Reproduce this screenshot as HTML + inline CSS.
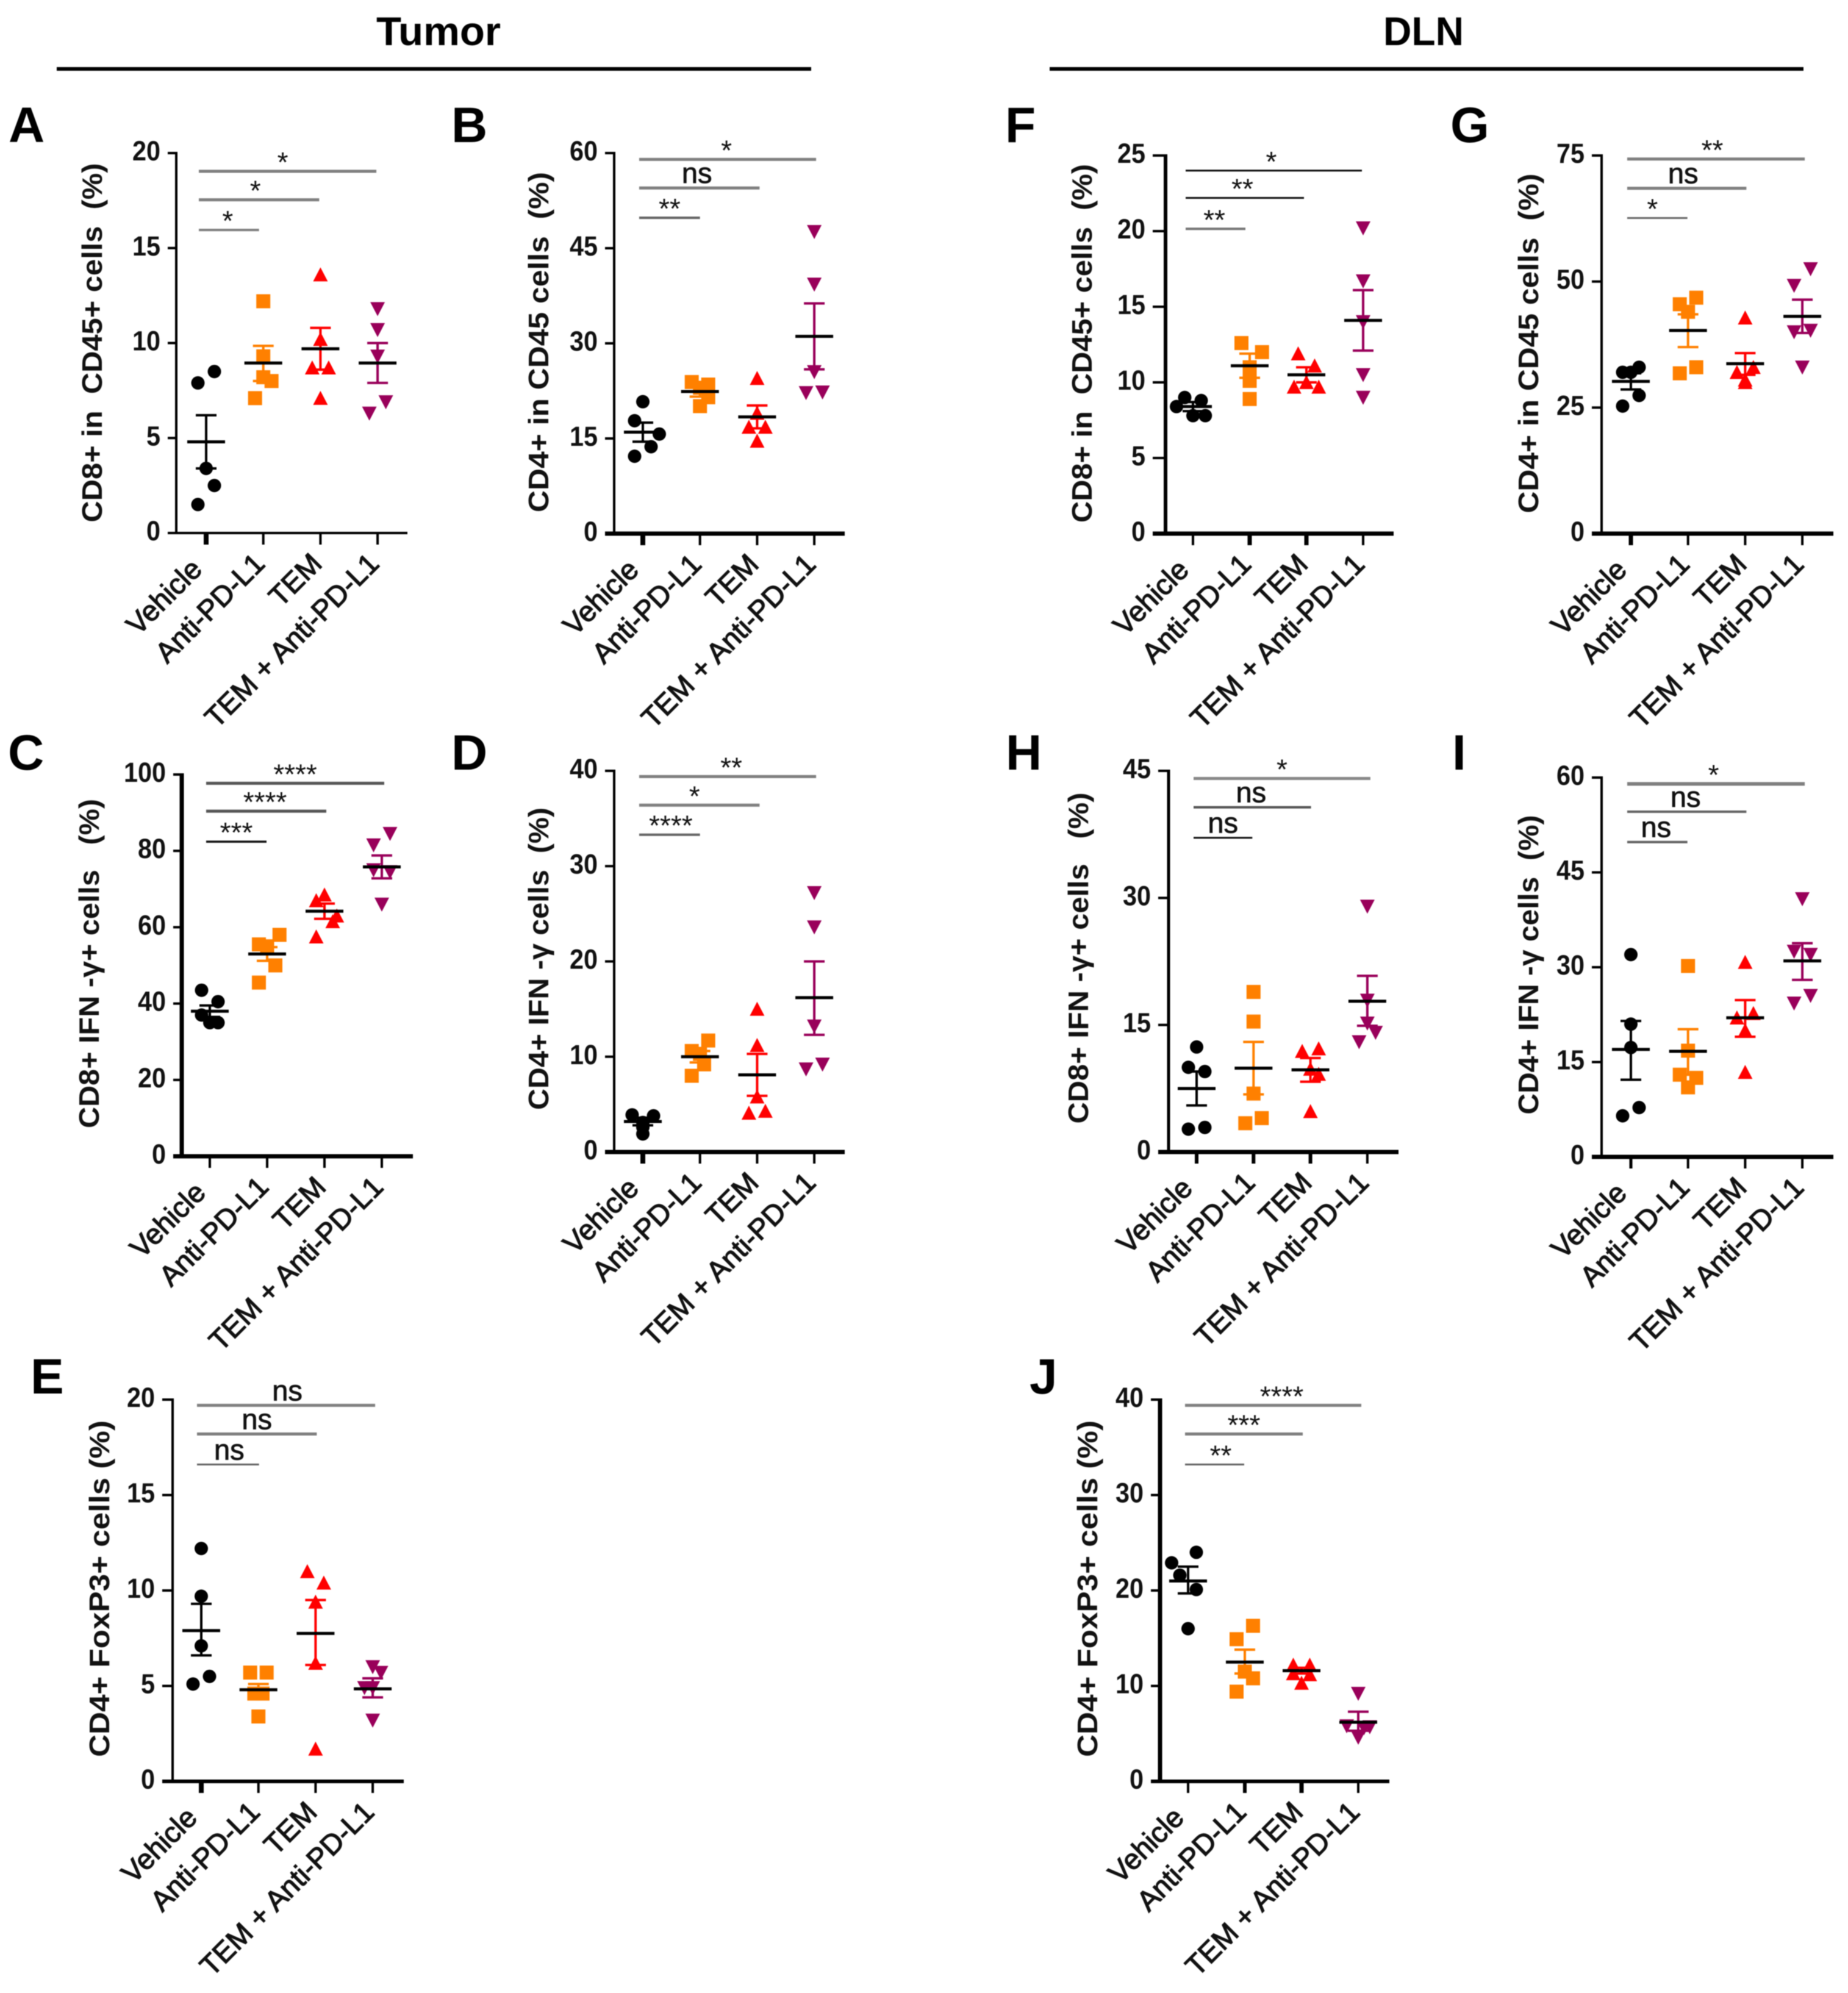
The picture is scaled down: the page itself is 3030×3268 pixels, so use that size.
<!DOCTYPE html>
<html lang="en">
<head>
<meta charset="utf-8">
<title>Tumor and DLN immune cell panels</title>
<style>
html,body{margin:0;padding:0;background:#fff;}
svg{display:block;font-family:"Liberation Sans",Arial,sans-serif;filter:blur(0.8px);}
.heading{font-size:66px;font-weight:bold;fill:#000;}
.letter{font-size:82px;font-weight:bold;fill:#000;}
.ytitle{font-size:46px;font-weight:bold;fill:#111;white-space:pre;text-anchor:middle;}
</style>
</head>
<body>
<svg id="figure" xmlns="http://www.w3.org/2000/svg" width="3030" height="3268" viewBox="0 0 3030 3268">
<rect x="0" y="0" width="3030" height="3268" fill="#fff"/>
<text class="heading" x="617" y="74" textLength="204" lengthAdjust="spacingAndGlyphs">Tumor</text>
<rect x="93" y="110" width="1237" height="6" fill="#000"/>
<text class="heading" x="2268" y="74" textLength="132" lengthAdjust="spacingAndGlyphs">DLN</text>
<rect x="1721" y="110" width="1236" height="6" fill="#000"/>
<text class="letter" x="14" y="233">A</text>
<text class="letter" x="740" y="233">B</text>
<text class="letter" x="13" y="1262">C</text>
<text class="letter" x="740" y="1262">D</text>
<text class="letter" x="50" y="2285">E</text>
<text class="letter" x="1648" y="233">F</text>
<text class="letter" x="2378" y="233">G</text>
<text class="letter" x="1649" y="1262">H</text>
<text class="letter" x="2381" y="1262">I</text>
<text class="letter" x="1688" y="2285">J</text>
<text class="ytitle" transform="translate(167 562) rotate(-90)" textLength="589" lengthAdjust="spacingAndGlyphs">CD8+ in  CD45+ cells  (%)</text>
<text class="ytitle" transform="translate(899 561) rotate(-90)" textLength="558" lengthAdjust="spacingAndGlyphs">CD4+ in CD45 cells  (%)</text>
<text class="ytitle" transform="translate(162 1580) rotate(-90)" textLength="540" lengthAdjust="spacingAndGlyphs">CD8+ IFN -γ+ cells   (%)</text>
<text class="ytitle" transform="translate(899 1572) rotate(-90)" textLength="496" lengthAdjust="spacingAndGlyphs">CD4+ IFN -γ cells  (%)</text>
<text class="ytitle" transform="translate(179 2605) rotate(-90)" textLength="552" lengthAdjust="spacingAndGlyphs">CD4+ FoxP3+ cells (%)</text>
<text class="ytitle" transform="translate(1790 563) rotate(-90)" textLength="588" lengthAdjust="spacingAndGlyphs">CD8+ in  CD45+ cells  (%)</text>
<text class="ytitle" transform="translate(2522 563) rotate(-90)" textLength="557" lengthAdjust="spacingAndGlyphs">CD4+ in CD45 cells  (%)</text>
<text class="ytitle" transform="translate(1784 1571) rotate(-90)" textLength="543" lengthAdjust="spacingAndGlyphs">CD8+ IFN -γ+ cells   (%)</text>
<text class="ytitle" transform="translate(2522 1582) rotate(-90)" textLength="491" lengthAdjust="spacingAndGlyphs">CD4+ IFN -γ cells  (%)</text>
<text class="ytitle" transform="translate(1799 2605) rotate(-90)" textLength="552" lengthAdjust="spacingAndGlyphs">CD4+ FoxP3+ cells (%)</text>
</svg>
<script>
const categories = ['Vehicle', 'Anti-PD-L1', 'TEM', 'TEM + Anti-PD-L1'];

const aTicks = [0, 5, 10, 15, 20];
const aValues = [[8.5, 7.9, 3.4, 2.5, 1.5], [12.2, 9.3, 8.2, 8.0, 7.1], [13.6, 10.2, 8.7, 8.7, 7.1], [11.8, 10.7, 9.3, 6.9, 6.3]];
const aSlots = [[1, -1, 0, 1, -1], [0, 0, 0, 1, -1], [0, 0, -1, 1, 0], [0, 0, 0, 1, -1]];
const aMeans = [4.8, 8.95, 9.7, 8.95];
const aSemHigh = [6.2, 9.85, 10.8, 10];
const aSemLow = [3.4, 8, 8.6, 7.9];
const aSigLevels = [19.04, 17.54, 15.95];
const aSigLabels = ['*', '*', '*'];

const bTicks = [0, 15, 30, 45, 60];
const bValues = [[20.8, 17.8, 15.7, 13.7, 12.2], [23.9, 23.5, 23, 21.5, 20.1], [24.5, 19, 16.8, 16.8, 14.6], [47.6, 39.3, 25.5, 22.3, 22.2]];
const bSlots = [[0, -1, 2, 1, -1], [-1, 1, 0, 1, 0], [0, 0, -1, 1, 0], [0, 0, 0, 1, -1]];
const bMeans = [16, 22.4, 18.4, 31.1];
const bSemHigh = [17.5, 23.2, 20.2, 36.3];
const bSemLow = [14.5, 21.6, 16.6, 25.9];
const bSigLevels = [59, 54.5, 49.8];
const bSigLabels = ['*', 'ns', '**'];

const cTicks = [0, 20, 40, 60, 80, 100];
const cValues = [[43.5, 40.5, 37, 35, 35], [58, 55.5, 55, 50, 45.5], [68.5, 67, 63, 61.5, 57.5], [84.5, 81.5, 75, 74.5, 66]];
const cSlots = [[-1, 1, -1, 0, 1], [1.5, -1, 0, 1, -1], [0, -1, 1.5, 1, -1], [1, -1, -1, 1, 0]];
const cMeans = [38, 53, 64.2, 75.8];
const cSemHigh = [39.5, 54.8, 66.2, 78.8];
const cSemLow = [36.5, 51.2, 62.2, 72.8];
const cSigLevels = [97.7, 90.4, 82.4];
const cSigLabels = ['****', '****', '***'];

const dTicks = [0, 10, 20, 30, 40];
const dValues = [[3.9, 3.8, 3.1, 2.6, 1.9], [11.7, 10.6, 10.3, 9.2, 8], [15, 11.2, 5.8, 4.3, 4.1], [27.2, 23.6, 13.2, 9.2, 8.7]];
const dSlots = [[-1.3, 1.3, 0, 0, 0], [1, -1, 0, 0.5, -1], [0, 0, 0, 1, -1], [0, 0, 0, 1, -1]];
const dMeans = [3.2, 10, 8.1, 16.2];
const dSemHigh = [3.6, 10.6, 10.3, 20];
const dSemLow = [2.8, 9.4, 5.9, 12.3];
const dSigLevels = [39.4, 36.4, 33.3];
const dSigLabels = ['**', '*', '****'];

const eTicks = [0, 5, 10, 15, 20];
const eValues = [[12.2, 9.7, 7.1, 5.5, 5.1], [5.7, 5.7, 4.6, 4.6, 3.4], [11, 10.4, 9.4, 6.2, 1.7], [6, 5.7, 4.9, 4.9, 3.2]];
const eSlots = [[0, 0, 0, 1, -1], [1, -1, -0.5, 0.5, 0], [-1, 1, 0, 0, 0], [0, 1, -1, 0, 0]];
const eMeans = [7.9, 4.8, 7.75, 4.85];
const eSemHigh = [9.3, 5.1, 9.5, 5.4];
const eSemLow = [6.6, 4.5, 6.1, 4.4];
const eSigLevels = [19.7, 18.2, 16.6];
const eSigLabels = ['ns', 'ns', 'ns'];

const fTicks = [0, 5, 10, 15, 20, 25];
const fValues = [[9, 8.8, 8.4, 7.8, 7.8], [12.6, 12, 11, 10.1, 8.9], [11.9, 11.1, 10, 9.7, 9.7], [20.2, 16.7, 14, 10.5, 9]];
const fSlots = [[-1, 1, -2, 0, 1.5], [-1, 1.5, 0, 0, 0], [-1, 1, 0, -1.5, 1.5], [0, 0, 0, 0, 0]];
const fMeans = [8.4, 11.1, 10.5, 14.1];
const fSemHigh = [8.7, 11.9, 11, 16.1];
const fSemLow = [8.1, 10.3, 10, 12.1];
const fSigLevels = [24, 22.2, 20.15];
const fSigLabels = ['*', '**', '**'];

const gTicks = [0, 25, 50, 75];
const gValues = [[33, 32, 32, 27.4, 25.3], [46.8, 45.5, 44, 33, 31.8], [42.8, 33, 32, 30.5, 30], [52.5, 49.2, 40.3, 40, 33]];
const gSlots = [[1, -1, 0, 1, -1], [1, -1, 0, 1, -1], [0, 1, -1, 0, 0], [1, -1, 1, -1, 0]];
const gMeans = [30.2, 40.3, 33.7, 43.1];
const gSemHigh = [31.8, 43.5, 35.8, 46.4];
const gSemLow = [28.6, 37, 31.5, 39.8];
const gSigLevels = [74.3, 68.5, 62.6];
const gSigLabels = ['**', 'ns', '*'];

const hTicks = [0, 15, 30, 45];
const hValues = [[12.4, 10, 9.5, 2.9, 2.7], [18.9, 15.4, 6.9, 4, 3.4], [12.2, 11.9, 9.8, 9.2, 4.8], [29, 17.9, 15.2, 14.1, 13]];
const hSlots = [[0, -1, 1, 1, -1], [0, 0, 0, 1, -1], [1, -1, 0, 1, 0], [0, 0, 0, 1, -1]];
const hMeans = [7.5, 9.9, 9.7, 17.8];
const hSemHigh = [9.5, 13, 11.1, 20.8];
const hSemLow = [5.5, 6.8, 8.3, 14.9];
const hSigLevels = [44.1, 40.7, 37.1];
const hSigLabels = ['*', 'ns', 'ns'];

const iTicks = [0, 15, 30, 45, 60];
const iValues = [[32, 21, 17.3, 7.8, 6.5], [30.2, 16.8, 13, 12.5, 11], [30.8, 22.7, 22, 20, 13.4], [40.8, 32.5, 32, 25.5, 24.3]];
const iSlots = [[0, 0, 0, 1, -1], [0, 0, -1, 1, 0], [0, 1, -1, 0, 0], [0, -1, 1, 1, -1]];
const iMeans = [17, 16.7, 22, 31];
const iSemHigh = [21.5, 20.2, 24.8, 33.8];
const iSemLow = [12.2, 13, 19, 28];
const iSigLevels = [59, 54.6, 49.8];
const iSigLabels = ['*', 'ns', 'ns'];

const jTicks = [0, 10, 20, 30, 40];
const jValues = [[24, 22.9, 21.6, 20.1, 16], [16.3, 14.9, 11.5, 10.8, 9.4], [12.2, 12.2, 11.3, 11.2, 10.3], [9.2, 5.8, 5.7, 5.6, 4.6]];
const jSlots = [[1, -2, -1, 1, 0], [1, -1, 0, 1, -1], [-1, 1, -1, 1, 0], [0, -1.4, 1.4, 0.7, 0]];
const jMeans = [21, 12.5, 11.6, 6.2];
const jSemHigh = [22.5, 13.8, 11.9, 7.3];
const jSemLow = [19.7, 11.3, 11.3, 5.3];
const jSigLevels = [39.4, 36.4, 33.2];
const jSigLabels = ['****', '***', '**'];

/* Layout only: plot frames, axis weights and significance-bar styling. */
const panels = [
  {id:'a', axisX:289, top:251, bottom:874, xStart:275, xEnd:668, x0:338, step:93.7, yW:4, xW:4, tickW:[8,4,4,4], barStart:-12, barEnd:[-2,-2,-7], barW:[5,5,4], barC:['#808080','#808080','#808080'], sigDx:[-8,-6,-2], ticks:aTicks, values:aValues, slots:aSlots, means:aMeans, high:aSemHigh, low:aSemLow, sig:aSigLevels, sigLabels:aSigLabels},
  {id:'b', axisX:1007, top:251, bottom:875, xStart:992, xEnd:1385, x0:1054, step:93.7, yW:4, xW:7, tickW:[8,4,4,4], barStart:-6, barEnd:[3,4,0], barW:[5,5,4], barC:['#808080','#808080','#666'], sigDx:[-2,-4,0], ticks:bTicks, values:bValues, slots:bSlots, means:bMeans, high:bSemHigh, low:bSemLow, sig:bSigLevels, sigLabels:bSigLabels},
  {id:'c', axisX:298, top:1270, bottom:1896, xStart:284, xEnd:677, x0:344, step:94, yW:7, xW:7, tickW:[4,4,4,4], barStart:-6, barEnd:[4,3,-1], barW:[5,5,3.5], barC:['#555','#555','#111'], sigDx:[0,-2,0], ticks:cTicks, values:cValues, slots:cSlots, means:cMeans, high:cSemHigh, low:cSemLow, sig:cSigLevels, sigLabels:cSigLabels},
  {id:'d', axisX:1007, top:1264, bottom:1889, xStart:992, xEnd:1385, x0:1054, step:93.7, yW:4, xW:7, tickW:[8,4,4,4], barStart:-6, barEnd:[3,4,0], barW:[5,5,4], barC:['#808080','#808080','#666'], sigDx:[6,-8,2], ticks:dTicks, values:dValues, slots:dSlots, means:dMeans, high:dSemHigh, low:dSemLow, sig:dSigLevels, sigLabels:dSigLabels},
  {id:'e', axisX:283, top:2295, bottom:2921, xStart:266, xEnd:662, x0:330, step:93.7, yW:4, xW:6, tickW:[8,4,4,4], barStart:-7, barEnd:[4,2,1], barW:[5,5,3], barC:['#808080','#808080','#666'], sigDx:[2,0,2], ticks:eTicks, values:eValues, slots:eSlots, means:eMeans, high:eSemHigh, low:eSemLow, sig:eSigLevels, sigLabels:eSigLabels},
  {id:'f', axisX:1911, top:255, bottom:875, xStart:1890, xEnd:2285, x0:1956, step:93, yW:6, xW:7, tickW:[4,7,7,4], barStart:-12, barEnd:[-2,-4,-7], barW:[3,3,4], barC:['#111','#111','#777'], sigDx:[-4,-4,-2], ticks:fTicks, values:fValues, slots:fSlots, means:fMeans, high:fSemHigh, low:fSemLow, sig:fSigLevels, sigLabels:fSigLabels},
  {id:'g', axisX:2626, top:255, bottom:875, xStart:2610, xEnd:3006, x0:2674, step:93.7, yW:4, xW:7, tickW:[7,4,4,4], barStart:-6, barEnd:[4,2,-1], barW:[5,5,3], barC:['#808080','#808080','#666'], sigDx:[-6,-6,-8], ticks:gTicks, values:gValues, slots:gSlots, means:gMeans, high:gSemHigh, low:gSemLow, sig:gSigLevels, sigLabels:gSigLabels},
  {id:'h', axisX:1916, top:1264, bottom:1889, xStart:1899, xEnd:2293, x0:1962, step:93.3, yW:5, xW:7, tickW:[6,6,6,4], barStart:-5, barEnd:[5,1,-2], barW:[5,4,3], barC:['#888','#555','#111'], sigDx:[0,-2,0], ticks:hTicks, values:hValues, slots:hSlots, means:hMeans, high:hSemHigh, low:hSemLow, sig:hSigLevels, sigLabels:hSigLabels},
  {id:'i', axisX:2626, top:1275, bottom:1897, xStart:2610, xEnd:3006, x0:2674, step:93.7, yW:4, xW:7, tickW:[5,4,4,4], barStart:-6, barEnd:[4,2,-1], barW:[6,4,4], barC:['#808080','#666','#666'], sigDx:[-4,-2,-2], ticks:iTicks, values:iValues, slots:iSlots, means:iMeans, high:iSemHigh, low:iSemLow, sig:iSigLevels, sigLabels:iSigLabels},
  {id:'j', axisX:1902, top:2295, bottom:2921, xStart:1887, xEnd:2278, x0:1948, step:93, yW:7, xW:6, tickW:[4,6,7,4], barStart:-5, barEnd:[5,2,-1], barW:[5,5,3], barC:['#808080','#808080','#666'], sigDx:[14,0,10], ticks:jTicks, values:jValues, slots:jSlots, means:jMeans, high:jSemHigh, low:jSemLow, sig:jSigLevels, sigLabels:jSigLabels}
];
const groupColors = ['#000000', '#ff8000', '#ff0000', '#99005a'];
const groupNames = ['vehicle', 'anti-pd-l1', 'tem', 'tem-anti-pd-l1'];
const SVG_NS = 'http://www.w3.org/2000/svg';
const figure = document.getElementById('figure');

function make(tag, attrs, parent) {
  const node = document.createElementNS(SVG_NS, tag);
  for (const key in attrs) node.setAttribute(key, attrs[key]);
  parent.appendChild(node);
  return node;
}

function drawPanel(p) {
  const yScale = v => p.bottom - (v / p.ticks[p.ticks.length - 1]) * (p.bottom - p.top);
  const xScale = i => p.x0 + i * p.step;
  const jitter = 13.5;

  const g = make('g', {}, figure);
  
  

  p.values.forEach((vals, gi) => {
    const color = groupColors[gi];
    vals.forEach((v, k) => {
      const cx = xScale(gi) + p.slots[gi][k] * jitter;
      const cy = yScale(v);
      let mark;
      if (gi === 0) {
        mark = make('circle', {cx: cx, cy: cy, r: 11, fill: color}, g);
      } else if (gi === 1) {
        mark = make('rect', {x: cx - 11.5, y: cy - 11.5, width: 23, height: 23, fill: color}, g);
      } else if (gi === 2) {
        mark = make('polygon', {points: (cx) + ',' + (cy - 12) + ' ' + (cx + 12) + ',' + (cy + 11) + ' ' + (cx - 12) + ',' + (cy + 11), fill: color}, g);
      } else {
        mark = make('polygon', {points: (cx) + ',' + (cy + 12) + ' ' + (cx + 12) + ',' + (cy - 11) + ' ' + (cx - 12) + ',' + (cy - 11), fill: color}, g);
      }
      
      
    });
  });

  p.means.forEach((m, gi) => {
    const color = groupColors[gi];
    const cx = xScale(gi);
    const stem = make('line', {x1: cx, x2: cx, y1: yScale(p.high[gi]), y2: yScale(p.low[gi]), stroke: color, 'stroke-width': 4}, g);
    
    
    const capHigh = make('line', {x1: cx - 17, x2: cx + 17, y1: yScale(p.high[gi]), y2: yScale(p.high[gi]), stroke: color, 'stroke-width': 4}, g);
    
    
    const capLow = make('line', {x1: cx - 17, x2: cx + 17, y1: yScale(p.low[gi]), y2: yScale(p.low[gi]), stroke: color, 'stroke-width': 4}, g);
    
    
    const meanLine = make('line', {x1: cx - 31, x2: cx + 31, y1: yScale(m), y2: yScale(m), stroke: '#000', 'stroke-width': 5}, g);
    
    
  });

  const yAxis = make('line', {x1: p.axisX, x2: p.axisX, y1: p.top - 2, y2: p.bottom, stroke: '#000', 'stroke-width': p.yW}, g);
  
  
  const xAxis = make('line', {x1: p.xStart, x2: p.xEnd, y1: p.bottom, y2: p.bottom, stroke: '#000', 'stroke-width': p.xW}, g);
  
  

  p.ticks.forEach(t => {
    const ty = yScale(t);
    const tick = make('line', {x1: p.xStart, x2: p.axisX, y1: ty, y2: ty, stroke: '#000', 'stroke-width': 4}, g);
    
    
    const label = String(t);
    const tickText = make('text', {x: p.xStart - 12, y: ty + 12, 'text-anchor': 'end', 'font-size': 45, 'font-weight': 'bold', fill: '#111', textLength: label.length * 23, lengthAdjust: 'spacingAndGlyphs'}, g);
    tickText.textContent = label;
    
    
  });

  categories.forEach((c, i) => {
    const tx = xScale(i);
    const tick = make('line', {x1: tx, x2: tx, y1: p.bottom, y2: p.bottom + 19, stroke: '#000', 'stroke-width': p.tickW[i]}, g);
    
    
    const along = i === 0 ? -13 : 0;
    const catText = make('text', {x: along, y: 0, 'text-anchor': 'end', 'font-size': 47, fill: '#111', stroke: '#111', 'stroke-width': 1.3, transform: 'translate(' + (tx + 5) + ' ' + (p.bottom + 53) + ') rotate(-45)'}, g);
    catText.textContent = c;
    
    
  });

  p.sig.forEach((level, k) => {
    const groupIndex = 3 - k;
    const x1 = xScale(0) + p.barStart;
    const x2 = xScale(groupIndex) + p.barEnd[k];
    const by = yScale(level);
    const bar = make('line', {x1: x1, x2: x2, y1: by, y2: by, stroke: p.barC[k], 'stroke-width': p.barW[k]}, g);
    
    
    const isNs = p.sigLabels[k] === 'ns';
    const sigText = make('text', {x: (x1 + x2) / 2 + p.sigDx[k], y: isNs ? by - 8 : by + 1, 'text-anchor': 'middle', 'font-size': isNs ? 47 : 46, fill: '#111', stroke: isNs ? '#111' : 'none', 'stroke-width': 0.8}, g);
    sigText.textContent = p.sigLabels[k];
    
    
  });
}

panels.forEach(drawPanel);
</script>
</body>
</html>
